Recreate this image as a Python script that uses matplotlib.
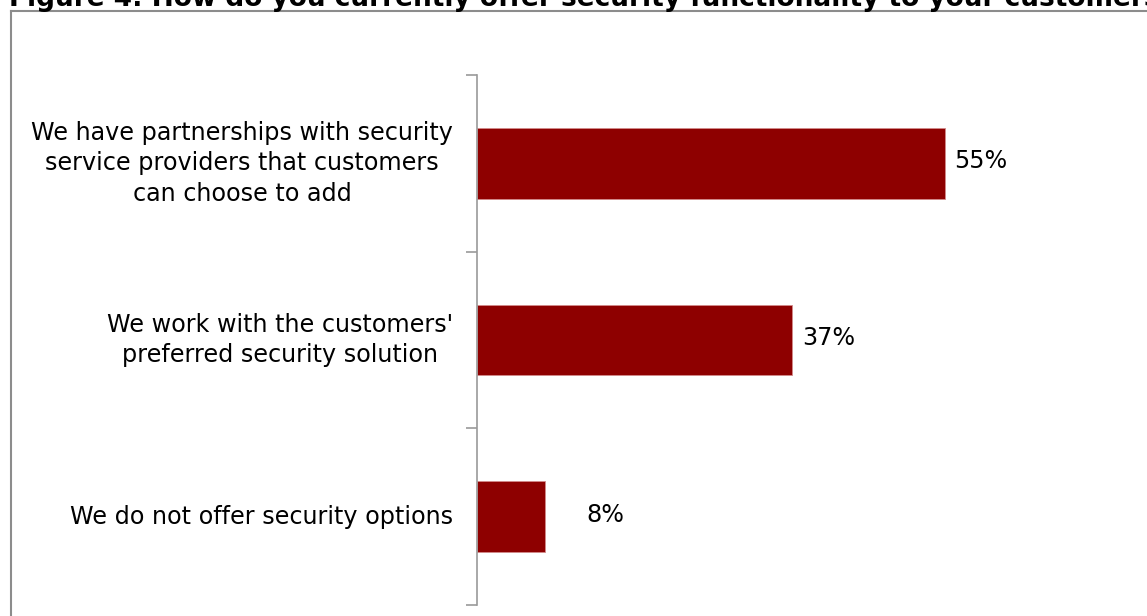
import matplotlib
matplotlib.use("Agg")
import matplotlib.pyplot as plt
from matplotlib.lines import Line2D

title = "Figure 4: How do you currently offer security functionality to your customers?"
categories = [
    "We have partnerships with security\nservice providers that customers\ncan choose to add",
    "We work with the customers'\npreferred security solution",
    "We do not offer security options",
]
values = [55, 37, 8]
labels = ["55%", "37%", "8%"]

W, H = 1147, 616
fig = plt.figure(figsize=(W / 100, H / 100), dpi=100)
plt.rcParams['font.family'] = ['DejaVu Sans']

# axes placed so the value axis sits at x=477px, spanning y=75..605px
ax_left, ax_top, ax_bottom = 477, 75, 605
px_per_pct = 8.5
xmax = 70
ax = fig.add_axes([ax_left / W, (H - ax_bottom) / H,
                   xmax * px_per_pct / W, (ax_bottom - ax_top) / H])

ypos = list(range(len(values)))
ax.barh(ypos, values, height=0.40, color='#8e0000',
        edgecolor='#d38a8a', linewidth=0.6)
ax.set_xlim(0, xmax)
ax.set_ylim(len(values) - 0.5, -0.5)

# category labels, lines centred, right edge just left of the axis
for y, txt in zip(ypos, categories):
    ax.annotate(txt, xy=(0, y), xycoords='data', xytext=(-24, 0),
                textcoords='offset pixels', ha='right', va='center',
                multialignment='center', fontsize=17.2, color='black',
                linespacing=1.33, annotation_clip=False)

# value labels
offsets = [10, 11, 41]
for y, v, lab, off in zip(ypos, values, labels, offsets):
    ax.annotate(lab, xy=(v, y), xytext=(off, 2), textcoords='offset pixels',
                ha='left', va='center', fontsize=17.2, color='black')

# category axis with ticks between bars, x axis hidden
ax.set_yticks([-0.5, 0.5, 1.5, 2.5])
ax.set_yticklabels([])
ax.tick_params(axis='y', length=8, width=1.2, color='#9a9a9a', direction='out')
ax.set_xticks([])
for s in ['top', 'right', 'bottom']:
    ax.spines[s].set_visible(False)
ax.spines['left'].set_color('#9a9a9a')
ax.spines['left'].set_linewidth(1.2)

# outer frame (runs off the right and bottom edges)
fig.add_artist(Line2D([11 / W, 11 / W], [0, (H - 11) / H],
                      transform=fig.transFigure, color='#8c8c8c', lw=1.5))
fig.add_artist(Line2D([11 / W, 1], [(H - 11) / H, (H - 11) / H],
                      transform=fig.transFigure, color='#8c8c8c', lw=1.5))

fig.text(9 / W, (H - 6) / H, title, ha='left', va='baseline',
         fontsize=19, fontweight='bold', color='black')

fig.savefig("out.png", dpi=100, facecolor='white')
